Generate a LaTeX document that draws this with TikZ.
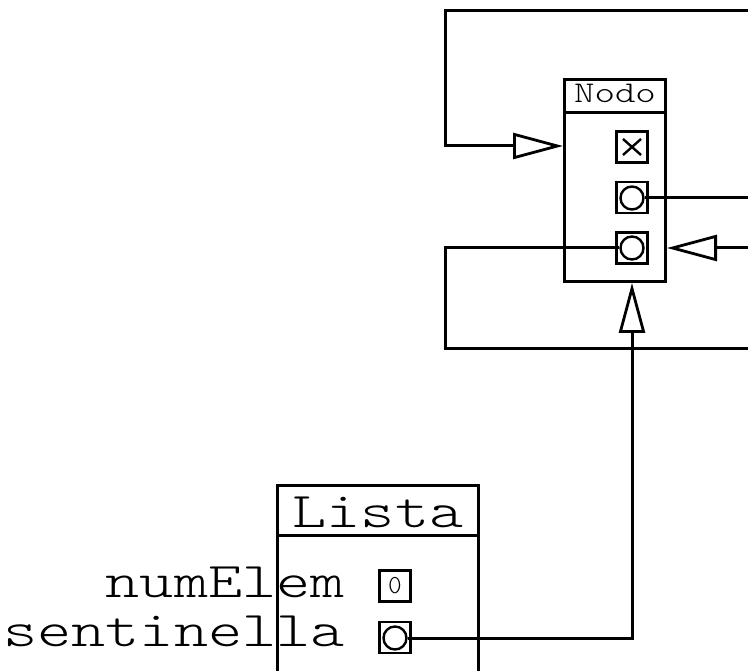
\documentclass[tikz,border=0pt]{standalone}
\usepackage{fontspec}
\usetikzlibrary{arrows.meta}
\newfontfamily\courlt{Latin Modern Mono Light}
\newcommand{\courfont}[1]{\courlt\fontsize{#1}{#1}\selectfont}
\begin{document}
\begin{tikzpicture}[x=1pt,y=-1pt,
  box/.style={draw, line width=3pt, inner sep=0pt, rectangle},
  slot/.style={draw, line width=2.6pt, inner sep=0pt, rectangle, minimum width=31pt, minimum height=31pt},
  ring/.style={draw, line width=2.4pt, circle, inner sep=0pt, minimum size=23pt},
  conn/.style={line width=3pt},
  otri/.style={-{Triangle[open, length=50pt, width=26pt, line width=2.8pt]}},
  lbl/.style={font=\courfont{50}, inner sep=0pt, xscale=1.3, transform shape}
]
\useasboundingbox (0,0) rectangle (748,671);
\fill[white] (0,0) rectangle (748,671);

% Nodo class
\node[box, minimum width=101pt, minimum height=33.5pt] (nodoT) at (615,96.25) {};
\node[font=\courfont{30}, inner sep=0pt, anchor=base, xscale=1.3, transform shape] (nodoTxt) at (615,103) {Nodo};
\node[box, minimum width=101pt, minimum height=168.5pt] (nodoB) at (615,197.25) {};
\node[slot] (sx) at (632,147) {};
\draw[line width=2.4pt] (sx.center) ++(-9,-8) -- ++(18,16);
\draw[line width=2.4pt] (sx.center) ++(-9,8) -- ++(18,-16);
\node[slot] (s1) at (632,197.5) {};
\node[ring] (c1) at (632,198) {};
\node[slot] (s2) at (632,248) {};
\node[ring] (c2) at (632,248) {};

% Lista class
\node[box, minimum width=201pt, minimum height=49.5pt] (listaT) at (378,510.25) {};
\node[lbl, anchor=base] (listaTxt) at (378,527) {Lista};
\node[box, minimum width=201pt, minimum height=155pt] (listaB) at (378,612.5) {};
\node[lbl, anchor=base east] (numE) at (345,597) {numElem};
\node[lbl, anchor=base east] (sent) at (345,646) {sentinella};
\node[slot] (n0) at (395,586) {};
\node[font=\courfont{26}, inner sep=0pt] (zero) at (395,586) {0};
\node[slot] (ss) at (395,637.5) {};
\node[ring] (sc) at (395,638) {};

% connectors
\coordinate (tr) at (752,11);
\coordinate (tl) at (445,11);
\coordinate (tlb) at (445,146);
\draw[conn, otri] (tr) -- (tl) -- (tlb) -- (tlb -| nodoB.west);

\coordinate (r1) at (752,198);
\draw[conn] (c1.east) -- (r1);

\coordinate (r2) at (752,248);
\draw[conn, otri] (r2) -- (r2 -| nodoB.east);

\coordinate (bl) at (445,248);
\coordinate (bl2) at (445,349);
\coordinate (br) at (752,349);
\draw[conn] (c2.west) -- (bl) -- (bl2) -- (br);

\coordinate (sv) at (632,638);
\draw[conn, otri] (sc.east) -- (sv) -- (sv |- nodoB.south);
\end{tikzpicture}
\end{document}
